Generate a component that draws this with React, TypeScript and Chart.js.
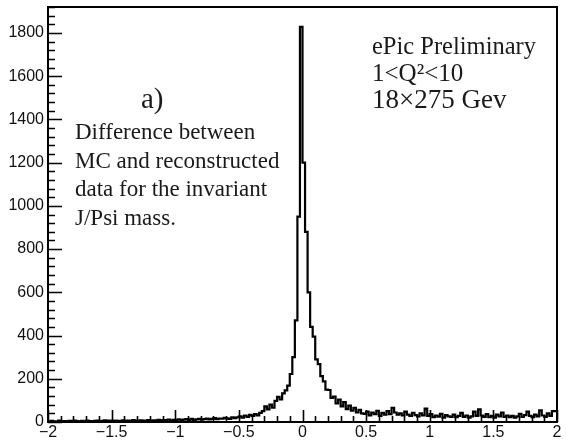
import React, { useEffect, useRef } from 'react';
import { Chart, registerables } from 'chart.js';

Chart.register(...registerables);

// ---- Data ----
const X_MIN = -2;
const X_MAX = 2;
const BIN_WIDTH = 0.02; // 200 bins
const Y_MAX = 1920;

// Counts per bin, from x = -2 to x = 2 (bin width 0.02)
const countsFarLeft = [
  4, 2, 5, 3, 2, 6, 3, 4, 2, 5, 3, 6, 4, 2, 5, 3, 7, 4, 3, 5,
  6, 3, 5, 8, 4, 6, 3, 7, 5, 4, 8, 5, 6, 4, 9, 6, 5, 8, 7, 5,
  9, 6, 8, 7, 10, 6, 9, 8, 11, 7,
];
const countsMidLeft = [
  10, 8, 12, 9, 11, 13, 10, 14, 9, 12, 15, 11, 13, 16, 12, 14, 18, 13, 16, 15,
  19, 17, 14, 21, 18,
];
const countsNearLeft = [22, 26, 20, 30, 24, 33, 28, 36, 31, 42];
const countsPeakLeft = [50, 72, 58, 80, 66, 98, 116, 104, 132, 146, 168, 222, 300, 470, 950];
const countsPeakRight = [
  1828, 1200, 880, 600, 440, 395, 290, 268, 212, 188, 150, 148, 112, 118, 86,
  104, 72, 92, 60, 76, 52, 66, 44, 56, 40,
];
const countsMidRight = [
  38, 48, 30, 44, 36, 52, 28, 42, 34, 50, 36, 66, 44, 34, 40, 30, 48, 34, 28, 42,
  32, 26, 40, 30, 62,
];
const countsFarRight = [
  28, 36, 22, 30, 25, 38, 20, 32, 26, 24, 34, 22, 28, 42, 24, 30, 20, 26, 48, 28,
  58, 30, 24, 36, 22, 28, 20, 34, 26, 44, 24, 30, 22, 28, 20, 26, 38, 24, 32, 48,
  28, 22, 34, 26, 54, 30, 24, 40, 28, 50,
];
const counts = [
  ...countsFarLeft, ...countsMidLeft, ...countsNearLeft, ...countsPeakLeft,
  ...countsPeakRight, ...countsMidRight, ...countsFarRight,
];

const xTickValues = [-2, -1.5, -1, -0.5, 0, 0.5, 1, 1.5, 2];
const xTickLabels = ['\u22122', '\u22121.5', '\u22121', '\u22120.5', '0', '0.5', '1', '1.5', '2'];
const yTickValues = [0, 200, 400, 600, 800, 1000, 1200, 1400, 1600, 1800];
const yTickLabels = ['0', '200', '400', '600', '800', '1000', '1200', '1400', '1600', '1800'];
const X_MINOR_STEP = 0.1;
const Y_MINOR_STEP = 40;

const labelA = 'a)';
const descriptionLines = ['Difference between', 'MC and reconstructed', 'data for the invariant', 'J/Psi mass.'];
const infoLines = ['ePic Preliminary', '1<Q\u00b2<10', '18\u00d7275 Gev'];

const SERIF = '"Liberation Serif", "DejaVu Serif", serif';
const SANS = '"Liberation Sans", Arial, Helvetica, sans-serif';

const framePlugin = {
  id: 'rootFrame',
  afterDatasetsDraw(chart: any) {
    const { ctx, chartArea, scales } = chart;
    const { left, right, top, bottom } = chartArea;
    const xs = scales.x;
    const ys = scales.y;
    ctx.save();
    ctx.strokeStyle = '#000';
    ctx.lineWidth = 1.6;
    ctx.beginPath();
    const nY = Math.round(Y_MAX / Y_MINOR_STEP);
    for (let k = 0; k <= nY; k++) {
      const v = k * Y_MINOR_STEP;
      const py = Math.round(ys.getPixelForValue(v)) + 0.5;
      const len = k % 5 === 0 ? 14 : 7;
      ctx.moveTo(left, py);
      ctx.lineTo(left + len, py);
    }
    const nX = Math.round((X_MAX - X_MIN) / X_MINOR_STEP);
    for (let k = 0; k <= nX; k++) {
      const v = X_MIN + k * X_MINOR_STEP;
      const px = Math.round(xs.getPixelForValue(v)) + 0.5;
      const len = k % 5 === 0 ? 12 : 6;
      ctx.moveTo(px, bottom);
      ctx.lineTo(px, bottom - len);
    }
    ctx.stroke();
    ctx.lineWidth = 2;
    ctx.strokeRect(left, top, right - left, bottom - top);

    ctx.fillStyle = '#1a1a1a';
    ctx.textAlign = 'left';
    ctx.textBaseline = 'alphabetic';
    ctx.font = `29px ${SERIF}`;
    ctx.fillText(labelA, 141, 108);
    ctx.font = `23px ${SERIF}`;
    descriptionLines.forEach((t, i) => ctx.fillText(t, 75, 139 + i * 28.5));
    ctx.font = `24.5px ${SERIF}`;
    ctx.fillText(infoLines[0], 372, 54);
    ctx.font = `25px ${SERIF}`;
    ctx.fillText(infoLines[1], 372, 81);
    ctx.font = `27px ${SERIF}`;
    ctx.fillText(infoLines[2], 372, 108);
    ctx.restore();
  },
};

export default function App() {
  const canvasRef = useRef<HTMLCanvasElement | null>(null);

  useEffect(() => {
    document.body.style.margin = '0';
    const canvas = canvasRef.current;
    if (!canvas) return;
    const points = counts.map((c, i) => ({ x: X_MIN + i * BIN_WIDTH, y: c }));
    points.push({ x: X_MAX, y: counts[counts.length - 1] });

    const chart = new Chart(canvas, {
      type: 'line',
      data: {
        datasets: [
          {
            data: points,
            stepped: 'after',
            borderColor: '#000',
            borderWidth: 2.2,
            pointRadius: 0,
            fill: false,
            tension: 0,
          },
        ],
      },
      options: {
        animation: false,
        responsive: false,
        devicePixelRatio: 1,
        layout: { padding: { top: 7, right: 9, left: 0, bottom: 0 } },
        plugins: { legend: { display: false }, tooltip: { enabled: false }, title: { display: false } },
        scales: {
          x: {
            type: 'linear',
            min: X_MIN,
            max: X_MAX,
            grid: { display: false, drawTicks: false },
            border: { display: false },
            afterBuildTicks: (scale: any) => {
              scale.ticks = xTickValues.map((v) => ({ value: v }));
            },
            afterFit: (scale: any) => {
              scale.height = 18;
              scale.paddingLeft = 0;
              scale.paddingRight = 0;
            },
            ticks: {
              autoSkip: false,
              maxRotation: 0,
              padding: 1,
              color: '#111',
              font: { family: SANS, size: 16 },
              callback: (v: any) => {
                const i = xTickValues.findIndex((t) => Math.abs(t - Number(v)) < 1e-9);
                return i >= 0 ? xTickLabels[i] : '';
              },
            },
          },
          y: {
            type: 'linear',
            min: 0,
            max: Y_MAX,
            grid: { display: false, drawTicks: false },
            border: { display: false },
            afterBuildTicks: (scale: any) => {
              scale.ticks = yTickValues.map((v) => ({ value: v }));
            },
            afterFit: (scale: any) => {
              scale.width = 48;
              scale.paddingTop = 0;
              scale.paddingBottom = 0;
            },
            ticks: {
              autoSkip: false,
              padding: 4,
              color: '#111',
              font: { family: SANS, size: 16 },
              callback: (v: any) => {
                const i = yTickValues.findIndex((t) => Math.abs(t - Number(v)) < 1e-9);
                return i >= 0 ? yTickLabels[i] : '';
              },
            },
          },
        },
      },
      plugins: [framePlugin],
    });
    return () => chart.destroy();
  }, []);

  return (
    <div style={{ width: 566, height: 440, background: '#fff' }}>
      <canvas ref={canvasRef} width={566} height={440} />
    </div>
  );
}
